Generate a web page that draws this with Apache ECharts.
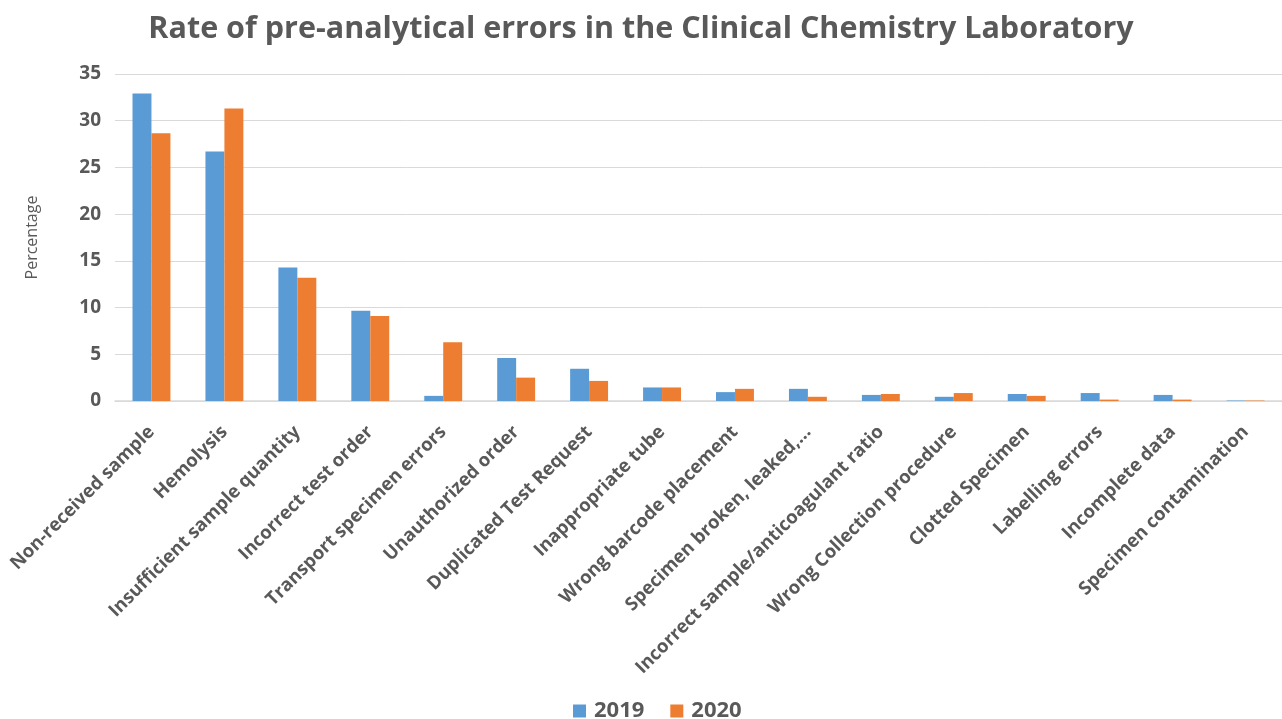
<!DOCTYPE html>
<html>
<head>
<meta charset="utf-8">
<script src="https://cdn.jsdelivr.net/npm/echarts@6/dist/echarts.min.js"></script>
<style>
  html, body { margin: 0; padding: 0; background: #fff; }
  #chart { width: 1282px; height: 719px; }
</style>
</head>
<body>
<div id="chart"></div>
<script>
var categories = ['Non-received sample', 'Hemolysis', 'Insufficient sample quantity', 'Incorrect test order',
    'Transport specimen errors', 'Unauthorized order', 'Duplicated Test Request', 'Inappropriate tube',
    'Wrong barcode placement', 'Specimen broken, leaked,...', 'Incorrect sample/anticoagulant ratio',
    'Wrong Collection procedure', 'Clotted Specimen', 'Labelling errors', 'Incomplete data',
    'Specimen contamination'];
var values2019 = [32.9, 26.7, 14.3, 9.65, 0.55, 4.6, 3.45, 1.45, 0.95, 1.3, 0.65, 0.45, 0.75, 0.85, 0.65, 0.05];
var values2020 = [28.65, 31.3, 13.2, 9.1, 6.3, 2.5, 2.15, 1.45, 1.3, 0.45, 0.75, 0.85, 0.55, 0.15, 0.15, 0.05];
var yTicks = [0, 5, 10, 15, 20, 25, 30, 35];

var textColor = '#595959';
var fontName = '"Open Sans", "Liberation Sans", sans-serif';

var chart = echarts.init(document.getElementById('chart'));
var option = {
    backgroundColor: '#fff',
    title: {
        text: 'Rate of pre-analytical errors in the Clinical Chemistry Laboratory',
        left: 'center',
        top: 9,
        textStyle: { color: textColor, fontSize: 30.5, fontWeight: 'bold', fontFamily: fontName }
    },
    legend: {
        data: ['2019', '2020'],
        bottom: -8,
        left: 568,
        itemWidth: 13,
        itemHeight: 13,
        itemGap: 26,
        icon: 'rect',
        textStyle: { color: textColor, fontSize: 22, fontWeight: 'bold', fontFamily: fontName, padding: [0, 0, 0, 3] }
    },
    grid: {
        left: 115,
        right: 0,
        top: 74,
        bottom: 318,
        outerBoundsMode: 'none'
    },
    xAxis: {
        type: 'category',
        data: categories,
        axisTick: { show: false },
        axisLine: { lineStyle: { color: '#d9d9d9', width: 1.5 } },
        axisLabel: {
            rotate: 45,
            interval: 0,
            margin: 28,
            color: textColor,
            fontSize: 18.5,
            fontWeight: 'bold',
            fontFamily: fontName
        }
    },
    yAxis: {
        type: 'value',
        min: yTicks[0],
        max: yTicks[yTicks.length - 1],
        interval: 5,
        name: 'Percentage',
        nameLocation: 'middle',
        nameGap: 75,
        nameTextStyle: { color: textColor, fontSize: 16, fontFamily: fontName },
        axisLine: { show: false },
        axisTick: { show: false },
        axisLabel: { color: textColor, fontSize: 19, fontWeight: 'bold', fontFamily: fontName, margin: 14 },
        splitLine: { lineStyle: { color: '#d9d9d9', width: 1 } }
    },
    series: [
        {
            name: '2019',
            type: 'bar',
            data: values2019,
            barGap: '0%',
            barCategoryGap: '48%',
            itemStyle: { color: '#5b9bd5' }
        },
        {
            name: '2020',
            type: 'bar',
            data: values2020,
            itemStyle: { color: '#ed7d31' }
        }
    ]
};
chart.setOption(option);
</script>
</body>
</html>
